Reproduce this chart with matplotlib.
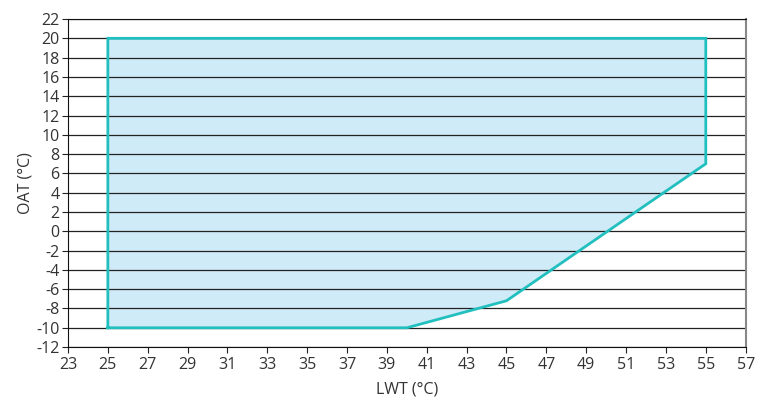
import matplotlib.pyplot as plt
import numpy as np

plt.rcParams["font.family"] = ["Open Sans", "DejaVu Sans"]
plt.rcParams["axes.unicode_minus"] = False

# operating envelope corners
lwt = [25, 25, 55, 55, 45, 40, 25]
oat = [-10, 20, 20, 7, -7.2, -10, -10]

x_ticks = list(range(23, 58, 2))
y_ticks = list(range(-12, 23, 2))

fig = plt.figure(figsize=(7.58, 4.05), dpi=100)
ax = fig.add_axes([0.0897, 0.143, 0.894, 0.81])

ax.fill(lwt, oat, facecolor="#d0ebf8", edgecolor="none", zorder=1)
for y in y_ticks:
    ax.axhline(y, color="#222222", lw=0.9, zorder=2)
ax.plot(lwt, oat, color="#22bfbf", lw=2, zorder=3, solid_joinstyle="miter")

ax.set_xlim(23, 57)
ax.set_ylim(-12, 22)
ax.set_xticks(x_ticks)
ax.set_yticks(y_ticks)
ax.tick_params(axis="both", labelsize=11.5, color="#222222", length=4, labelcolor="#333333")
ax.tick_params(axis="y", pad=2)
ax.tick_params(axis="x", pad=3)

for s in ["left", "bottom", "top"]:
    ax.spines[s].set_color("#111111")
ax.spines["right"].set_color("#888888")
ax.spines["right"].set_linewidth(1.5)

ax.set_xlabel("LWT (°C)", fontsize=11.5, color="#333333", labelpad=6)
ax.set_ylabel("OAT (°C)", fontsize=11.5, color="#333333", labelpad=2)

fig.savefig("out.png", dpi=100)
